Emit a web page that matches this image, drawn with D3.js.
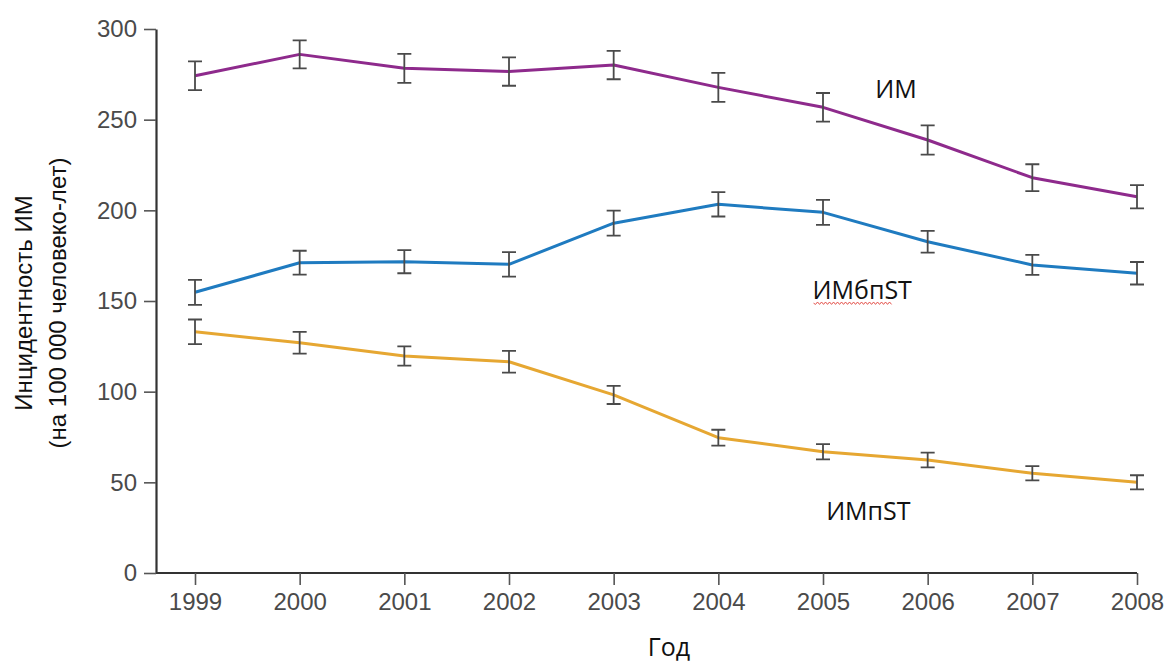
<!DOCTYPE html>
<html>
<head>
<meta charset="utf-8">
<script src="https://cdn.jsdelivr.net/npm/d3@7"></script>
<style>
  html, body { margin: 0; padding: 0; background: #fff; }
  svg { display: block; }
</style>
</head>
<body>
<svg id="chart" width="1168" height="664"></svg>
<script>
const years = [1999, 2000, 2001, 2002, 2003, 2004, 2005, 2006, 2007, 2008];
const yTicks = [0, 50, 100, 150, 200, 250, 300];

const seriesNames = ["ИМ", "ИМбпST", "ИМпST"];
const imValues   = [274.2, 286.0, 278.3, 276.5, 280.1, 267.8, 256.8, 238.8, 218.0, 207.5];
const imErrors   = [7.9, 7.7, 8.0, 7.8, 7.8, 8.0, 7.9, 8.1, 7.4, 6.4];
const nstValues  = [154.8, 171.1, 171.7, 170.2, 192.9, 203.3, 198.9, 182.7, 169.9, 165.3];
const nstErrors  = [6.9, 6.6, 6.4, 6.8, 6.9, 6.7, 6.9, 6.0, 5.5, 6.2];
const stValues   = [133.0, 127.0, 119.7, 116.5, 98.2, 74.6, 66.9, 62.3, 55.0, 50.0];
const stErrors   = [6.8, 6.0, 5.3, 6.0, 5.0, 4.4, 4.2, 4.1, 3.9, 3.9];

const yTitleLines = ["Инцидентность ИМ", "(на 100 000 человеко-лет)"];
const xTitle = "Год";

const svg = d3.select("#chart");

const x = d3.scaleLinear().domain([1999, 2008]).range([195, 1137]);
const y = d3.scaleLinear().domain([0, 300]).range([573, 29]);

const axisColor = "#333";
const tickTextColor = "#4a4a4a";

// Y axis
const yAxis = svg.append("g")
  .attr("transform", "translate(156,0)")
  .call(d3.axisLeft(y).tickValues(yTicks).tickSize(12).tickPadding(7).tickSizeOuter(0));
yAxis.select(".domain").attr("stroke", axisColor).attr("stroke-width", 2.2);
yAxis.selectAll(".tick line").attr("stroke", "#555").attr("stroke-width", 1.6);
yAxis.selectAll(".tick text")
  .attr("fill", tickTextColor)
  .style("font-family", "'Liberation Sans', Arial, sans-serif")
  .style("font-size", "24px");

// X axis
const xAxis = svg.append("g")
  .attr("transform", "translate(0,573)")
  .call(d3.axisBottom(x).tickValues(years).tickFormat(d3.format("d")).tickSize(12).tickPadding(8).tickSizeOuter(0));
xAxis.select(".domain").attr("stroke", axisColor).attr("stroke-width", 2.2)
  .attr("d", `M156,0H${x(2008)}`);
xAxis.selectAll(".tick line").attr("stroke", "#555").attr("stroke-width", 1.6);
xAxis.selectAll(".tick text")
  .attr("fill", tickTextColor)
  .style("font-family", "'Liberation Sans', Arial, sans-serif")
  .style("font-size", "24px");

// Series
const series = [
  { name: seriesNames[0], values: imValues,  errors: imErrors,  color: "#8e2a8c" },
  { name: seriesNames[1], values: nstValues, errors: nstErrors, color: "#1f7bc0" },
  { name: seriesNames[2], values: stValues,  errors: stErrors,  color: "#e6a732" }
];

const line = d3.line().x(d => x(d.year)).y(d => y(d.v));

series.forEach(s => {
  const pts = years.map((yr, i) => ({ year: yr, v: s.values[i], e: s.errors[i] }));
  svg.append("path")
    .datum(pts)
    .attr("fill", "none")
    .attr("stroke", s.color)
    .attr("stroke-width", 3)
    .attr("stroke-linejoin", "round")
    .attr("d", line);

  const eb = svg.append("g").attr("stroke", "#4a4a4a").attr("stroke-width", 1.8).attr("fill", "none");
  const cap = 7;
  pts.forEach(p => {
    const cx = x(p.year), y1 = y(p.v + p.e), y2 = y(p.v - p.e);
    eb.append("path").attr("d", `M${cx},${y1}V${y2}M${cx - cap},${y1}H${cx + cap}M${cx - cap},${y2}H${cx + cap}`);
  });
});

// Series labels
const labelFont = "'Open Sans', 'Noto Sans', sans-serif";
const labels = [
  { text: seriesNames[0], year: 2005.5, v: 262 },
  { text: seriesNames[1], year: 2004.9, v: 151 },
  { text: seriesNames[2], year: 2005.03, v: 29 }
];
labels.forEach((l, i) => {
  const t = svg.append("text")
    .attr("x", x(l.year))
    .attr("y", y(l.v))
    .attr("fill", "#111")
    .style("font-family", labelFont)
    .style("font-size", "25px")
    .text(l.text);
  if (i === 1) {
    // red spell-check squiggle under the label, as in the reference
    const bb = t.node().getBBox();
    const x0 = bb.x + 1, x1 = bb.x + bb.width - 22, yy = y(l.v) + 4;
    let d = `M${x0},${yy}`;
    for (let xx = x0, k = 0; xx < x1; xx += 2, k++) d += `L${xx + 2},${yy + (k % 2 ? -1.2 : 1.2)}`;
    svg.append("path").attr("d", d).attr("fill", "none").attr("stroke", "#e0413a").attr("stroke-width", 0.9);
  }
});

// Axis titles
const yt = svg.append("text")
  .attr("transform", "translate(0,303) rotate(-90)")
  .attr("text-anchor", "middle")
  .attr("fill", "#111")
  .style("font-family", "'Liberation Sans', Arial, sans-serif")
  .style("font-size", "24px");
yt.append("tspan").attr("x", 0).attr("y", 32).text(yTitleLines[0]);
yt.append("tspan").attr("x", 0).attr("y", 66).text(yTitleLines[1]);

svg.append("text")
  .attr("x", 669)
  .attr("y", 656)
  .attr("text-anchor", "middle")
  .attr("fill", "#111")
  .style("font-family", labelFont)
  .style("font-size", "25px")
  .text(xTitle);
</script>
</body>
</html>
